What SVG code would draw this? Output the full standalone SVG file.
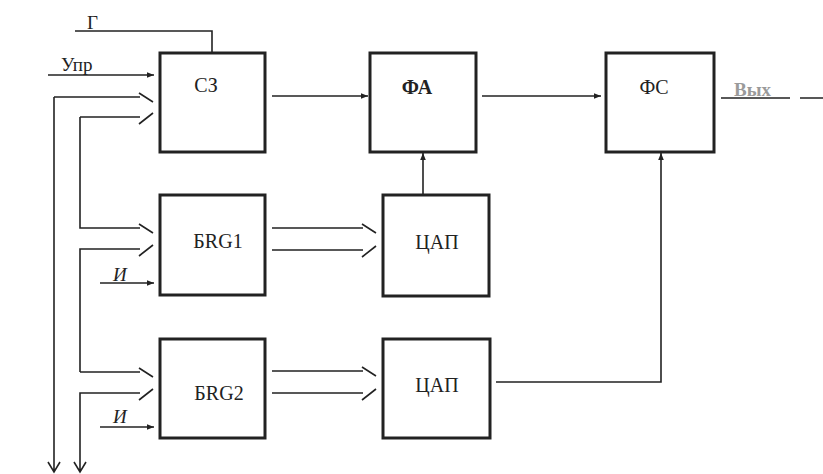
<svg xmlns="http://www.w3.org/2000/svg" width="823" height="474" viewBox="0 0 823 474">
<defs>
<marker id="ah" viewBox="0 0 10 10" refX="10" refY="5" markerWidth="7" markerHeight="7" markerUnits="userSpaceOnUse" orient="auto"><path d="M0,1 L10,5 L0,9 Z" fill="#222"/></marker>
<style>
.box{fill:#fff;stroke:#222;stroke-width:3}
.ln{fill:none;stroke:#222;stroke-width:1.6}
.t{font-family:'Liberation Serif',serif;font-size:20px;fill:#222;text-anchor:middle}
.s{font-family:'Liberation Serif',serif;font-size:19px;fill:#222}
</style>
</defs>
<rect width="823" height="474" fill="#fff"/>
<g id="connectors">
<path class="ln" d="M75,31 H212 V52"/>
<path class="ln" d="M48,75 H154" marker-end="url(#ah)"/>
<path class="ln" d="M54,97 H140 M139,93 L153,102"/>
<path class="ln" d="M80,117 H140 M139,124 L153,113"/>
<path class="ln" d="M54,97 V472 M48,462 L54,472 L60,462"/>
<path class="ln" d="M80,117 V228 H140 M139,224 L153,233"/>
<path class="ln" d="M80,372 V249 H140 M139,256 L153,245"/>
<path class="ln" d="M100,283 H154" marker-end="url(#ah)"/>
<path class="ln" d="M80,372 H140 M139,368 L153,377"/>
<path class="ln" d="M80,472 V393 H140 M139,400 L153,389 M74,462 L80,472 L86,462"/>
<path class="ln" d="M100,427 H154" marker-end="url(#ah)"/>
<path class="ln" d="M272,96 H368" marker-end="url(#ah)"/>
<path class="ln" d="M482,96 H601" marker-end="url(#ah)"/>
<path class="ln" d="M272,228 H363 M362,224 L376,233"/>
<path class="ln" d="M272,250 H363 M362,257 L376,246"/>
<path class="ln" d="M423,195 V153" marker-end="url(#ah)"/>
<path class="ln" d="M272,371 H363 M362,367 L376,376"/>
<path class="ln" d="M272,393 H363 M362,400 L376,389"/>
<path class="ln" d="M496,382 H661 V153" marker-end="url(#ah)"/>
<path class="ln" d="M721,98 H790 M800,98 H823" stroke-width="1.2"/>
</g>
<g id="labels">
<text class="s" x="87" y="29" font-size="24">Г</text>
<text class="s" x="61" y="71" font-size="18">Упр</text>
<text class="s" x="113" y="281" font-style="italic">И</text>
<text class="s" x="113" y="423" font-style="italic">И</text>
<text x="734" y="96" font-family="'Liberation Serif',serif" font-size="19" fill="#9a9a9a" font-weight="bold">Вых</text>
</g>
<g id="C3"><rect class="box" x="160" y="53" width="105" height="99"/><text class="t" x="206" y="92" font-size="22">СЗ</text></g>
<g id="BRG1"><rect class="box" x="160" y="195" width="105" height="100"/><text class="t" x="218" y="248">БRG1</text></g>
<g id="BRG2"><rect class="box" x="160" y="339" width="105" height="99"/><text class="t" x="219" y="400">БRG2</text></g>
<g id="FA"><rect class="box" x="370" y="53" width="106" height="99"/><text class="t" x="417" y="94" font-weight="bold">ФА</text></g>
<g id="DAC1"><rect class="box" x="383" y="195" width="106" height="101"/><text class="t" x="437" y="249">ЦАП</text></g>
<g id="DAC2"><rect class="box" x="383" y="339" width="107" height="99"/><text class="t" x="437" y="392">ЦАП</text></g>
<g id="FS"><rect class="box" x="606" y="53" width="108" height="99"/><text class="t" x="654" y="94">ФС</text></g>
</svg>
